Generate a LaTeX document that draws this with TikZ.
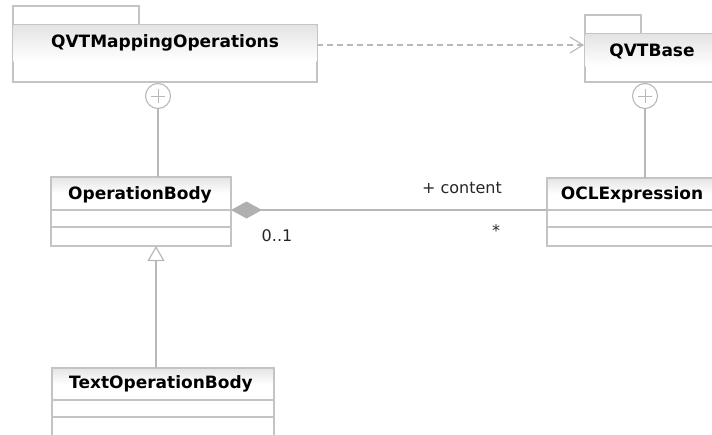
\documentclass[tikz,border=0pt]{standalone}
\usepackage{fontspec}
\setmainfont{DejaVu Sans}
\usetikzlibrary{arrows.meta,calc}
\definecolor{boxline}{HTML}{C4C4C4}
\definecolor{connline}{HTML}{B8B8B8}
\definecolor{headtop}{HTML}{E4E4E4}
\definecolor{diamondfill}{HTML}{B0B0B0}
\tikzset{
  box/.style={draw=boxline, line width=1.2pt, inner sep=0pt, outer sep=0pt, anchor=north west},
  header/.style={box, top color=headtop, bottom color=white, middle color=white},
  plainbox/.style={box, fill=white},
  title/.style={font=\fontsize{17}{19}\selectfont\bfseries, inner sep=0pt},
  lbl/.style={font=\fontsize{16}{18}\selectfont, inner sep=0pt, text=black!85},
  conn/.style={draw=connline, line width=1.2pt},
  nest/.style={circle, draw=connline, line width=1.1pt, fill=white, minimum size=25pt, inner sep=0pt}
}
\begin{document}
\begin{tikzpicture}[x=1pt, y=-1pt]
\useasboundingbox (0,0) rectangle (712,434);
\clip (0,0) rectangle (712,434);

% package QVTMappingOperations
\node[plainbox, minimum width=126pt, minimum height=19pt] (pAtab) at (13,6) {};
\node[box, minimum width=304pt, minimum height=57pt, fill=white] (pA) at (13,25) {};
\shade[top color=headtop, bottom color=white] ($(pA.north west)+(0.6,0.6)$) rectangle ($(pA.north east)+(-0.6,36)$);
\node[title] at ($(pA.north)+(0,18)$) {QVTMappingOperations};

% package QVTBase
\node[plainbox, minimum width=56pt, minimum height=19pt] (pBtab) at (585,15) {};
\node[box, minimum width=134pt, minimum height=48pt, fill=white] (pB) at (585,34) {};
\shade[top color=headtop, bottom color=white] ($(pB.north west)+(0.6,0.6)$) rectangle ($(pB.north east)+(-0.6,32)$);
\node[title] at ($(pB.north)+(0,17)$) {QVTBase};

% class OperationBody
\node[header, minimum width=180pt, minimum height=33pt] (obh) at (51,177) {};
\node[plainbox, minimum width=180pt, minimum height=17pt] (oba) at (obh.south west) {};
\node[plainbox, minimum width=180pt, minimum height=19pt] (obo) at (oba.south west) {};
\node[title] at ($(obh.center)+(-1,1)$) {OperationBody};

% class OCLExpression
\node[header, minimum width=170pt, minimum height=32pt] (oeh) at (547,178) {};
\node[plainbox, minimum width=170pt, minimum height=17pt] (oea) at (oeh.south west) {};
\node[plainbox, minimum width=170pt, minimum height=19pt] (oeo) at (oea.south west) {};
\node[title] at ($(oeh.center)+(0,1)$) {OCLExpression};

% class TextOperationBody
\node[header, minimum width=222pt, minimum height=32pt] (toh) at (52,368) {};
\node[plainbox, minimum width=222pt, minimum height=17pt] (toa) at (toh.south west) {};
\node[plainbox, minimum width=222pt, minimum height=30pt] (too) at (toa.south west) {};
\node[title] at ($(toh.center)+(-2,0)$) {TextOperationBody};

% package import
\coordinate (impS) at ($(pA.north east)+(0,20)$);
\coordinate (impE) at ($(pB.north west)+(-1,11)$);
\draw[conn, dash pattern=on 6pt off 4pt, -{Straight Barb[length=13pt,width=16pt,line width=1.1pt]}] (impS) -- (impE);

% nesting of the classes in their packages
\node[nest] (nA) at (158,96) {};
\draw[draw=connline, line width=1pt] ($(nA.center)+(-7,0)$) -- ($(nA.center)+(7,0)$)
  ($(nA.center)+(0,-7)$) -- ($(nA.center)+(0,7)$);
\draw[conn] (nA.south) -- (nA.south |- obh.north);

\node[nest] (nB) at (645,96) {};
\draw[draw=connline, line width=1pt] ($(nB.center)+(-7,0)$) -- ($(nB.center)+(7,0)$)
  ($(nB.center)+(0,-7)$) -- ($(nB.center)+(0,7)$);
\draw[conn] (nB.south) -- (nB.south |- oeh.north);

% composition OperationBody <>-- OCLExpression
\draw[conn, {Diamond[length=31pt,width=17pt,fill=diamondfill,color=diamondfill]}-] (obh.south east) -- (oeh.south west);
\node[lbl, anchor=south east] (role) at (502,194) {+ content};
\node[lbl] (mulB) at (496,231) {*};
\node[lbl] (mulA) at (277,236) {0..1};

% generalization TextOperationBody --|> OperationBody
\coordinate (genS) at ($(toh.north west)+(104,0)$);
\coordinate (genE) at ($(obo.south west)+(105,0)$);
\draw[conn, -{Triangle[open,length=15pt,width=17pt,fill=white]}] (genS) -- (genE);
\end{tikzpicture}
\end{document}
